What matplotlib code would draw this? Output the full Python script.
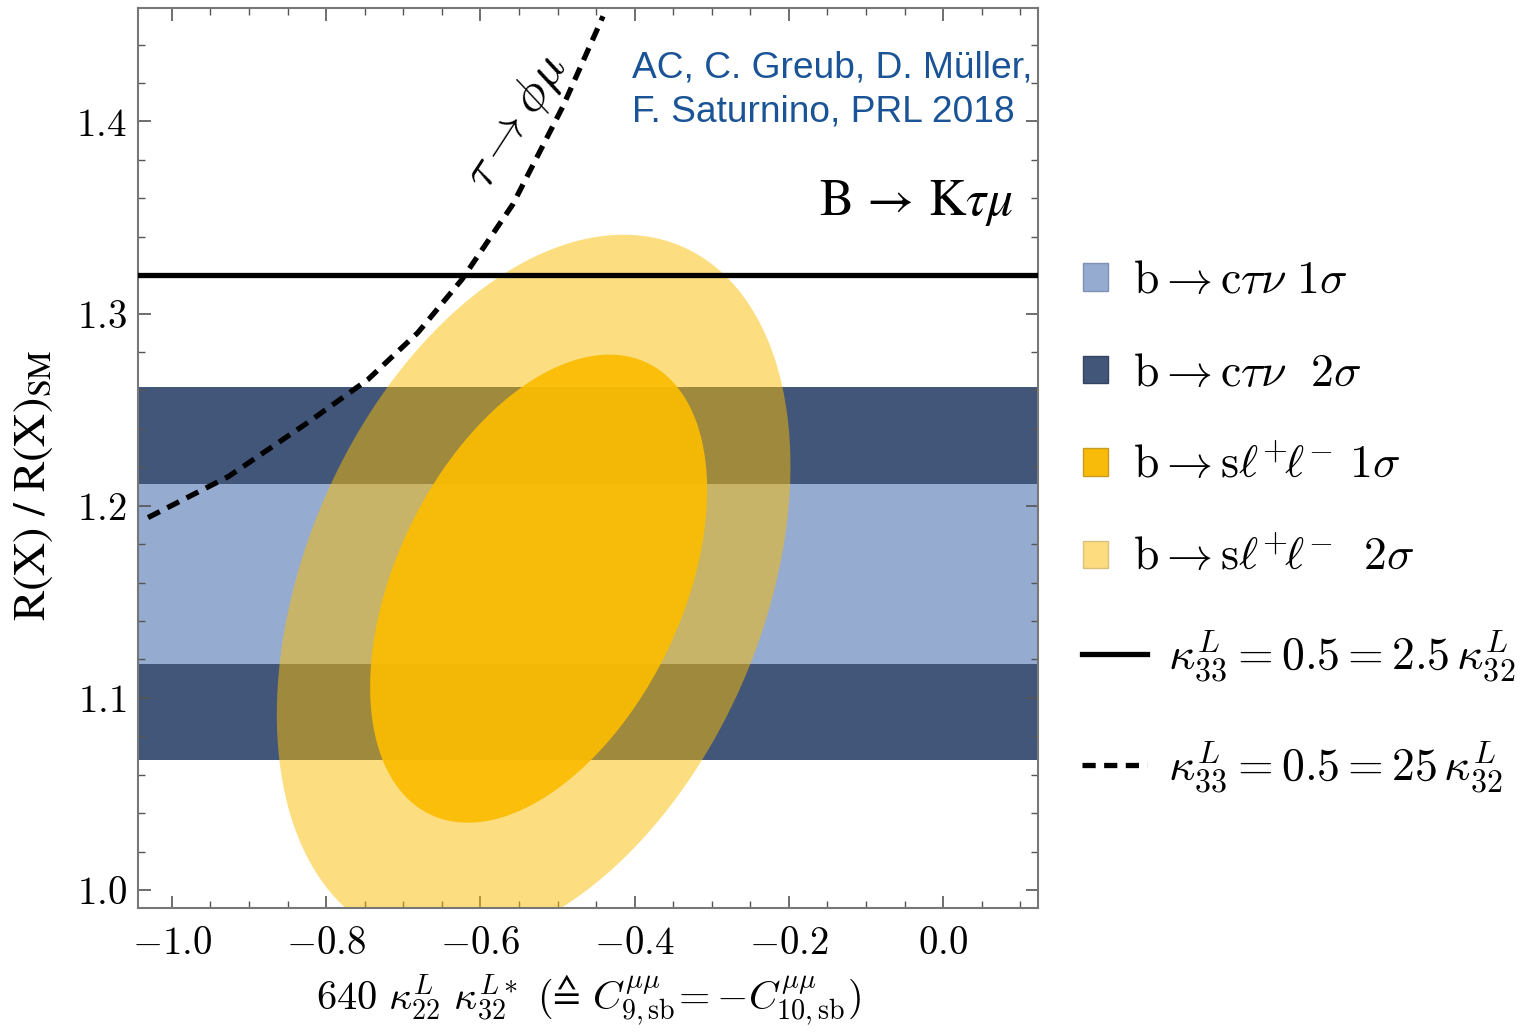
import numpy as np
import matplotlib
matplotlib.use('Agg')
import matplotlib.pyplot as plt
from matplotlib.patches import Patch
from matplotlib.lines import Line2D
from matplotlib.ticker import MultipleLocator, FuncFormatter

plt.rcParams['mathtext.fontset'] = 'cm'
plt.rcParams['font.family'] = ['DejaVu Serif']

# ---------------- data ----------------
x_lim = (-1.044, 0.123)
y_lim = (0.9906, 1.459)
x_ticks = [-1.0, -0.8, -0.6, -0.4, -0.2, 0.0]
y_ticks = [1.0, 1.1, 1.2, 1.3, 1.4]

# b -> c tau nu bands (R(X)/R(X)_SM)
band_2sigma = (1.0677, 1.2615)
band_1sigma = (1.1177, 1.2115)

# b -> s l+ l- regions: centre, half extents, correlation
ell_1sigma_c = (-0.5245, 1.1568)
ell_1sigma_ext = (0.2185, 0.1218)
ell_1sigma_rho = 0.42
ell_2sigma_c = (-0.531, 1.156)
ell_2sigma_ext = (0.333, 0.185)
ell_2sigma_rho = 0.35

# kappa^L_33 = 0.5 = 2.5 kappa^L_32  (horizontal line)
solid_y = 1.32
# kappa^L_33 = 0.5 = 25 kappa^L_32  (tau -> phi mu bound)
dash_x = [-1.031, -0.927, -0.824, -0.746, -0.681, -0.624, -0.558, -0.493, -0.441]
dash_y = [1.1938, 1.2151, 1.2432, 1.2656, 1.2901, 1.3177, 1.3568, 1.4078, 1.4547]

legend_labels = [
    r'$\mathrm{b} \rightarrow \mathrm{c}\tau\nu\ 1\sigma$',
    r'$\mathrm{b} \rightarrow \mathrm{c}\tau\nu\ \ 2\sigma$',
    r'$\mathrm{b} \rightarrow \mathrm{s}\ell^{+}\!\ell^{-}\ 1\sigma$',
    r'$\mathrm{b} \rightarrow \mathrm{s}\ell^{+}\!\ell^{-}\ \ 2\sigma$',
    r'$\kappa^{L}_{33} = 0.5 = 2.5\,\kappa^{L}_{32}$',
    r'$\kappa^{L}_{33} = 0.5 = 25\,\kappa^{L}_{32}$',
]

# ---------------- colours ----------------
light_blue = '#95abd0'
dark_blue = '#42567a'
yellow = '#fbbd01'


def region(c, ext, rho, n=400):
    t = np.linspace(0, 2 * np.pi, n)
    phi = np.arccos(rho)
    return c[0] + ext[0] * np.cos(t), c[1] + ext[1] * np.cos(t - phi)


fig = plt.figure(figsize=(15.22, 10.36), dpi=100)
ax = fig.add_axes([138 / 1522, 128 / 1036, 900 / 1522, 900 / 1036])

ax.axhspan(*band_2sigma, color=dark_blue, lw=0, zorder=1)
ax.axhspan(*band_1sigma, color=light_blue, lw=0, zorder=1.1)
x2, y2 = region(ell_2sigma_c, ell_2sigma_ext, ell_2sigma_rho)
ax.fill(x2, y2, color=yellow, alpha=0.5, lw=0, zorder=2)
x1, y1 = region(ell_1sigma_c, ell_1sigma_ext, ell_1sigma_rho)
ax.fill(x1, y1, color=yellow, alpha=0.92, lw=0, zorder=3)
ax.axhline(solid_y, color='black', lw=3.8, zorder=4)
ax.plot(dash_x, dash_y, color='black', lw=3.8, dashes=(2.5, 1.6), zorder=4)

ax.set_xlim(*x_lim)
ax.set_ylim(*y_lim)
ax.set_xticks(x_ticks)
ax.set_yticks(y_ticks)
ax.xaxis.set_minor_locator(MultipleLocator(0.05))
ax.yaxis.set_minor_locator(MultipleLocator(0.02))
fmt = FuncFormatter(lambda v, p: '$%s$' % ('%.1f' % v if abs(v) > 1e-9 else '0.0'))
ax.xaxis.set_major_formatter(fmt)
ax.yaxis.set_major_formatter(fmt)
ax.tick_params(which='both', direction='in', top=True, right=True, color='#555555', labelsize=28)
ax.tick_params(which='major', length=9, width=1.2)
ax.tick_params(which='minor', length=5, width=1.0)
ax.tick_params(axis='x', pad=12)
ax.tick_params(axis='y', pad=8)
for s in ax.spines.values():
    s.set_color('#777777')
    s.set_linewidth(1.5)

# axis labels
fig.text(32 / 1522, 1 - 485 / 1036, r'$\mathrm{R(X)\ /\ R(X)_{SM}}$', rotation=90,
         ha='center', va='center', fontsize=33, math_fontfamily='stix')
fig.text(588 / 1522, 1 - 1010 / 1036,
         r'$640\ \kappa^{L}_{22}\ \kappa^{L*}_{32}\ (≙\ C^{\mu\mu}_{9,\mathrm{sb}}\!= -C^{\mu\mu}_{10,\mathrm{sb}})$',
         ha='center', va='baseline', fontsize=29)

# annotations
fig.text(632 / 1522, 1 - 77 / 1036, 'AC, C. Greub, D. Müller,', color='#1a5496', fontsize=26.7,
         family='Liberation Sans', va='baseline')
fig.text(632 / 1522, 1 - 121 / 1036, 'F. Saturnino, PRL 2018', color='#1a5496', fontsize=26.7,
         family='Liberation Sans', va='baseline')
fig.text(1013 / 1522, 1 - 215 / 1036, r'$\mathrm{B}\,\rightarrow\,\mathrm{K}\tau\mu$', ha='right',
         va='baseline', fontsize=37, math_fontfamily='stix')
fig.text(516 / 1522, 1 - 122 / 1036, r'$\tau \rightarrow \phi\mu$', ha='center', va='center',
         rotation=57, fontsize=36)

# legends
patch_handles = [
    Patch(facecolor=light_blue, edgecolor='#7f90b2', lw=1),
    Patch(facecolor=dark_blue, edgecolor='#34445f', lw=1),
    Patch(facecolor='#f8bb0a', edgecolor='#c89a20', lw=1),
    Patch(facecolor='#fddc80', edgecolor='#d9c080', lw=1),
]
leg1 = fig.legend(handles=patch_handles, labels=legend_labels[:4], loc='upper left',
                  bbox_to_anchor=(1083 / 1522, 1 - 258 / 1036), frameon=False, fontsize=33,
                  handlelength=0.55, handleheight=0.55, handletextpad=0.55, labelspacing=1.03,
                  borderpad=0, borderaxespad=0)
line_handles = [
    Line2D([], [], color='black', lw=3.8),
    Line2D([], [], color='black', lw=3.8, dashes=(2.5, 1.6)),
]
leg2 = fig.legend(handles=line_handles, labels=legend_labels[4:], loc='upper left',
                  bbox_to_anchor=(1082 / 1522, 1 - 629 / 1036), frameon=False, fontsize=33,
                  handlelength=1.42, handletextpad=0.45, labelspacing=1.22,
                  borderpad=0, borderaxespad=0)

fig.savefig('out.png', dpi=100)
